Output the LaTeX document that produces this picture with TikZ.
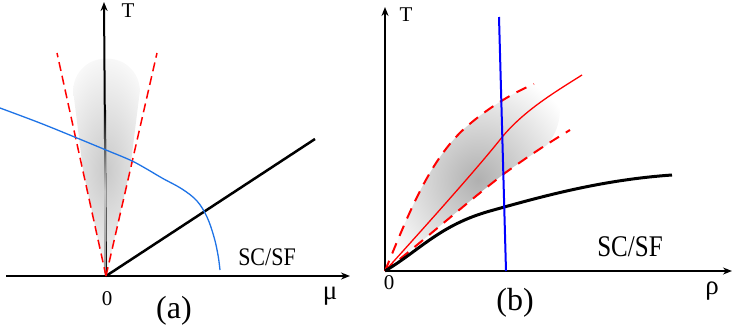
\documentclass[tikz,border=0pt]{standalone}
\usepackage{fontspec}
\setmainfont{LiberationSerif}[Extension=.ttf,UprightFont=*-Regular,BoldFont=*-Bold]
\usetikzlibrary{arrows.meta}
\definecolor{curveblue}{RGB}{30,115,230}
\begin{document}
\begin{tikzpicture}[x=1pt,y=-1pt,
  axis/.style={line width=2pt,-{Stealth[length=9pt,width=7pt]}},
  lbl/.style={inner sep=0pt,font=\fontsize{21}{24}\selectfont},
  grk/.style={inner sep=0pt,font=\fontsize{27}{30}\selectfont},
  big/.style={inner sep=0pt,font=\fontsize{32}{36}\selectfont},
  dasha/.style={red,line width=1.5pt,dash pattern=on 9pt off 5pt},
  dashb/.style={red,line width=2pt,dash pattern=on 11pt off 8pt}]
\useasboundingbox (0,0) rectangle (736,330);

% ---------- panel (a) ----------
\coordinate (Oa) at (106,276);
\coordinate (Ta) at (104,2);
\coordinate (Ma0) at (6,276);
\coordinate (Ma) at (350,276);
\coordinate (Da) at (315,139);
\coordinate (La) at (57,53);
\coordinate (Ra) at (157,53);

\begin{scope}
  \clip (Oa) -- (83,170) -- (73,90) .. controls (76,48) and (137,48) .. (140,90) -- (130,170) -- cycle;
  \shade[inner color=gray!42,outer color=white] (106,170) ellipse (60 and 130);
\end{scope}

\draw[axis] (Oa) -- (Ta);
\shade[top color=black,bottom color=gray!80,middle color=gray!45] (104.2,110) rectangle (106.2,272);
\draw[axis] (Ma0) -- (Ma);
\draw[line width=2.5pt] (Oa) -- (Da);
\draw[dasha] (Oa) -- (La);
\draw[dasha] (Oa) -- (Ra);
\draw[curveblue,line width=1.3pt] plot[smooth,tension=0.6] coordinates
  {(0,108) (40,123) (77,138) (106,150) (130,160) (145,168) (162,178) (182,189) (197,201) (207,217) (214,237) (218,255) (220,270)};

\node[lbl] (Tla) at (128,11) {T};
\node[lbl] (zeroa) at (107,299) {0};
\node[grk] (mu) at (330,296) {μ};
\node[big] (capa) at (174,311) {(a)};
\node[inner sep=0pt,font=\fontsize{22}{24}\selectfont] (sca) at (267,257) {\scalebox{1}[1.15]{SC/SF}};

% ---------- panel (b) ----------
\coordinate (Ob) at (385,271);
\coordinate (Tb) at (385,7);
\coordinate (Rb) at (732,271);
\coordinate (Bt) at (499,17);
\coordinate (Bb) at (506,271);

\begin{scope}
  \clip (Ob) .. controls (410,210) and (430,160) .. (465,128) .. controls (490,106) and (515,92) .. (534,84)
     .. controls (560,75) and (570,118) .. (547,145)
     .. controls (535,153) and (520,162) .. (505,173) .. controls (470,200) and (430,235) .. (Ob) -- cycle;
  \shade[inner color=gray!62,outer color=white,rotate around={47:(478,180)}] (478,180) ellipse (125 and 55);
\end{scope}

\draw[axis] (Ob) -- (Tb);
\draw[axis] (Ob) -- (Rb);
\draw[dashb] (Ob) .. controls (410,210) and (430,160) .. (465,128) .. controls (490,106) and (515,92) .. (534,84);
\draw[dashb] (Ob) .. controls (430,235) and (470,200) .. (505,173) .. controls (530,155) and (550,142) .. (570,130);
\draw[red,line width=1.3pt] (Ob) .. controls (440,210) and (480,165) .. (503,136) .. controls (525,110) and (555,92) .. (582,75);
\draw[line width=3pt] (Ob) .. controls (420,250) and (440,225) .. (490,211) .. controls (540,197) and (600,180) .. (672,175);
\draw[blue,line width=2pt] (Bt) -- (Bb);

\node[lbl] (Tlb) at (406,15) {T};
\node[lbl] (zerob) at (389,283) {0};
\node[grk] (rho) at (712,291) {ρ};
\node[big] (capb) at (515,303) {(b)};
\node[inner sep=0pt,font=\fontsize{25}{28}\selectfont] (scb) at (630,247) {\scalebox{1}[1.2]{SC/SF}};
\end{tikzpicture}
\end{document}
